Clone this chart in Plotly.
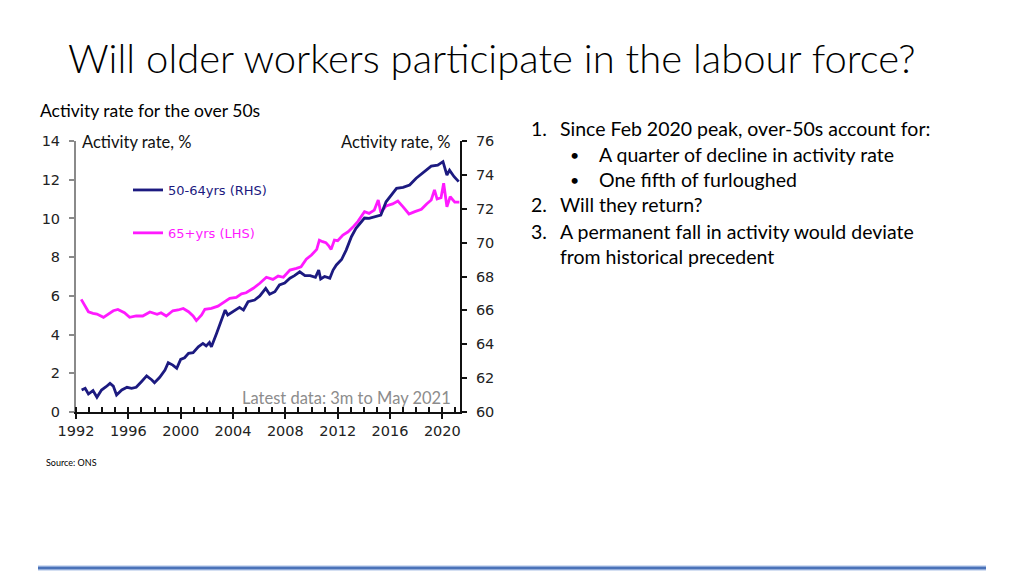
import plotly.graph_objects as go

# ---- data (decimal years) ----
pink_years = [1992.4, 1992.7, 1992.95, 1993.3, 1993.6, 1994.1, 1994.5, 1994.85, 1995.2, 1995.7,
              1996.1, 1996.6, 1997.1, 1997.65, 1998.2, 1998.5, 1998.9, 1999.4, 1999.8, 2000.2,
              2000.6, 2000.95, 2001.2, 2001.6, 2001.85, 2002.35, 2002.85, 2003.25, 2003.75, 2004.25,
              2004.65, 2005.0, 2005.55, 2006.05, 2006.55, 2007.05, 2007.45, 2007.85, 2008.35, 2008.85,
              2009.2, 2009.6, 2010.0, 2010.4, 2010.6, 2010.85, 2011.1, 2011.3, 2011.5, 2011.75,
              2012.0, 2012.4, 2012.8, 2013.15, 2013.55, 2014.05, 2014.4, 2014.8, 2015.1, 2015.3,
              2015.7, 2016.2, 2016.6, 2017.0, 2017.45, 2017.9, 2018.4, 2018.8, 2019.15, 2019.4,
              2019.6, 2019.9, 2020.1, 2020.35, 2020.6, 2020.95, 2021.3]
pink_values = [5.82, 5.5, 5.18, 5.1, 5.06, 4.89, 5.05, 5.23, 5.3, 5.13,
               4.89, 4.96, 4.96, 5.17, 5.05, 5.13, 4.96, 5.23, 5.27, 5.35,
               5.18, 4.96, 4.72, 5.01, 5.3, 5.35, 5.47, 5.65, 5.87, 5.92,
               6.1, 6.16, 6.39, 6.65, 6.96, 6.85, 7.02, 6.96, 7.33, 7.42,
               7.5, 7.89, 8.11, 8.4, 8.88, 8.8, 8.75, 8.6, 8.4, 8.88,
               8.85, 9.14, 9.31, 9.54, 9.85, 10.35, 10.26, 10.43, 10.95, 10.3,
               10.65, 10.75, 10.9, 10.6, 10.23, 10.35, 10.47, 10.75, 10.95, 11.47,
               11.0, 11.07, 11.82, 10.6, 11.12, 10.84, 10.84]

blue_years = [1992.43, 1992.7, 1992.95, 1993.3, 1993.6, 1993.95, 1994.3, 1994.6, 1994.85, 1995.1,
              1995.5, 1995.9, 1996.25, 1996.6, 1997.0, 1997.4, 1997.8, 1998.0, 1998.4, 1998.8,
              1999.05, 1999.4, 1999.7, 2000.0, 2000.3, 2000.6, 2000.95, 2001.35, 2001.7, 2001.95,
              2002.2, 2002.35, 2002.75, 2003.1, 2003.4, 2003.6, 2004.0, 2004.5, 2004.8, 2005.15,
              2005.65, 2006.05, 2006.5, 2006.8, 2007.2, 2007.55, 2007.95, 2008.35, 2008.7, 2009.1,
              2009.5, 2009.9, 2010.3, 2010.55, 2010.7, 2011.0, 2011.4, 2011.65, 2011.9, 2012.3,
              2012.65, 2013.05, 2013.4, 2013.7, 2014.05, 2014.4, 2014.9, 2015.3, 2015.7, 2016.1,
              2016.5, 2017.0, 2017.5, 2018.0, 2018.4, 2018.8, 2019.15, 2019.65, 2020.05, 2020.35,
              2020.55, 2020.9, 2021.25]
blue_values = [61.30, 61.40, 61.06, 61.26, 60.87, 61.30, 61.49, 61.69, 61.53, 61.0,
               61.30, 61.46, 61.40, 61.46, 61.79, 62.13, 61.89, 61.73, 62.05, 62.48,
               62.91, 62.77, 62.58, 63.11, 63.2, 63.46, 63.5, 63.85, 64.05, 63.9,
               64.1, 63.85, 64.65, 65.43, 66.02, 65.73, 65.92, 66.18, 66.02, 66.51,
               66.61, 66.85, 67.3, 66.95, 67.1, 67.5, 67.62, 67.9, 68.05, 68.28,
               68.05, 68.05, 67.95, 68.38, 67.85, 68.0, 67.9, 68.38, 68.68, 69.0,
               69.56, 70.35, 70.84, 71.1, 71.45, 71.43, 71.53, 71.63, 72.41, 72.81,
               73.2, 73.26, 73.4, 73.8, 74.05, 74.25, 74.52, 74.58, 74.78, 73.99,
               74.28, 73.89, 73.6]

x_tick_vals = [1992, 1996, 2000, 2004, 2008, 2012, 2016, 2020]
x_tick_text = ["1992", "1996", "2000", "2004", "2008", "2012", "2016", "2020"]
left_ticks = [0, 2, 4, 6, 8, 10, 12, 14]
right_ticks = [60, 62, 64, 66, 68, 70, 72, 74, 76]

W, H = 1024, 576
OFF = 8  # page body margin
def px(x):
    return (x - OFF) / W
def py(y):
    return 1 - (y - OFF) / H

BLUE = "#1c1a80"
PINK = "#ff1aff"
TICKFONT = dict(family="DejaVu Sans", size=14.5, color="#222222")
BODY = "Lato"

fig = go.Figure()
fig.add_trace(go.Scatter(
    x=blue_years, y=blue_values, mode="lines", yaxis="y2",
    name="<span style='color:%s'>50-64yrs (RHS)</span>" % BLUE,
    line=dict(color=BLUE, width=2.8), legendgroup="a"))
fig.add_trace(go.Scatter(
    x=pink_years, y=pink_values, mode="lines", yaxis="y",
    name="<span style='color:%s'>65+yrs (LHS)</span>" % PINK,
    line=dict(color=PINK, width=2.8), legendgroup="b"))

fig.update_layout(
    width=W, height=H, margin=dict(l=0, r=0, t=0, b=0, pad=0, autoexpand=False),
    paper_bgcolor="white", plot_bgcolor="white",
    showlegend=True,
    legend=dict(x=px(128), y=py(175), xanchor="left", yanchor="top",
                bgcolor="rgba(0,0,0,0)", font=dict(family="DejaVu Sans", size=13),
                tracegroupgap=23, itemwidth=30, traceorder="grouped"),
    xaxis=dict(domain=[px(76), px(460)], range=[1992, 2021.35], automargin=False,
               tickvals=x_tick_vals, ticktext=x_tick_text, tickfont=TICKFONT,
               showgrid=False, zeroline=False, showline=True, linecolor="#111111", linewidth=2,
               ticks="outside", ticklen=5, tickwidth=1.5, tickcolor="#111111",
               minor=dict(dtick=1, tick0=1992, ticks="inside", ticklen=5, tickwidth=1.5,
                          tickcolor="#111111", showgrid=False)),
    yaxis=dict(domain=[py(412), py(141)], range=[0, 14], tickvals=left_ticks, automargin=False,
               tickfont=TICKFONT, showgrid=False, zeroline=False,
               showline=True, linecolor="#8a8a8a", linewidth=2, ticklabelstandoff=6,
               ticks="outside", ticklen=5, tickwidth=1.5, tickcolor="#8a8a8a"),
    yaxis2=dict(overlaying="y", side="right", range=[60, 76], tickvals=right_ticks, automargin=False,
                tickfont=TICKFONT, showgrid=False, zeroline=False, ticklabelstandoff=6,
                showline=True, linecolor="#111111", linewidth=2,
                ticks="outside", ticklen=5, tickwidth=1.5, tickcolor="#111111"),
)

ann = []
def add_text(x, y, text, size, color="#000000", family=BODY, xanchor="left", weight=None):
    f = dict(family=family, size=size, color=color)
    if weight:
        f["weight"] = weight
    ann.append(dict(x=px(x), y=py(y), xref="paper", yref="paper", text=text,
                    showarrow=False, xanchor=xanchor, yanchor="middle", font=f))

add_text(66, 58, "Will older workers participate in the labour force?", 40, weight=300)
add_text(38, 111, "Activity rate for the over 50s", 17.5)
add_text(80, 142, "Activity rate, %", 16.5, color="#111111")
add_text(452, 142, "Activity rate, %", 16.5, color="#111111", xanchor="right")
add_text(453, 398, "Latest data: 3m to May 2021", 16.5, color="#8c8c8c", xanchor="right")
add_text(44, 462, "Source: ONS", 9)

rt = 19.5
add_text(529, 128, "1.", rt)
add_text(558, 128, "Since Feb 2020 peak, over-50s account for:", rt)
add_text(568, 154, "•", 16)
add_text(597, 154, "A quarter of decline in activity rate", rt)
add_text(568, 179, "•", 16)
add_text(597, 179, "One fifth of furloughed", rt)
add_text(529, 205, "2.", rt)
add_text(558, 205, "Will they return?", rt)
add_text(529, 231, "3.", rt)
add_text(558, 231, "A permanent fall in activity would deviate", rt)
add_text(558, 256, "from historical precedent", rt)

fig.update_layout(annotations=ann)

fig.add_shape(type="line", xref="paper", yref="paper",
              x0=px(38), x1=px(986), y0=py(568), y1=py(568),
              line=dict(color="#a9bfe6", width=5))
fig.add_shape(type="line", xref="paper", yref="paper",
              x0=px(38), x1=px(986), y0=py(568), y1=py(568),
              line=dict(color="#4a72b8", width=2.5))

fig.write_html("out.html")
